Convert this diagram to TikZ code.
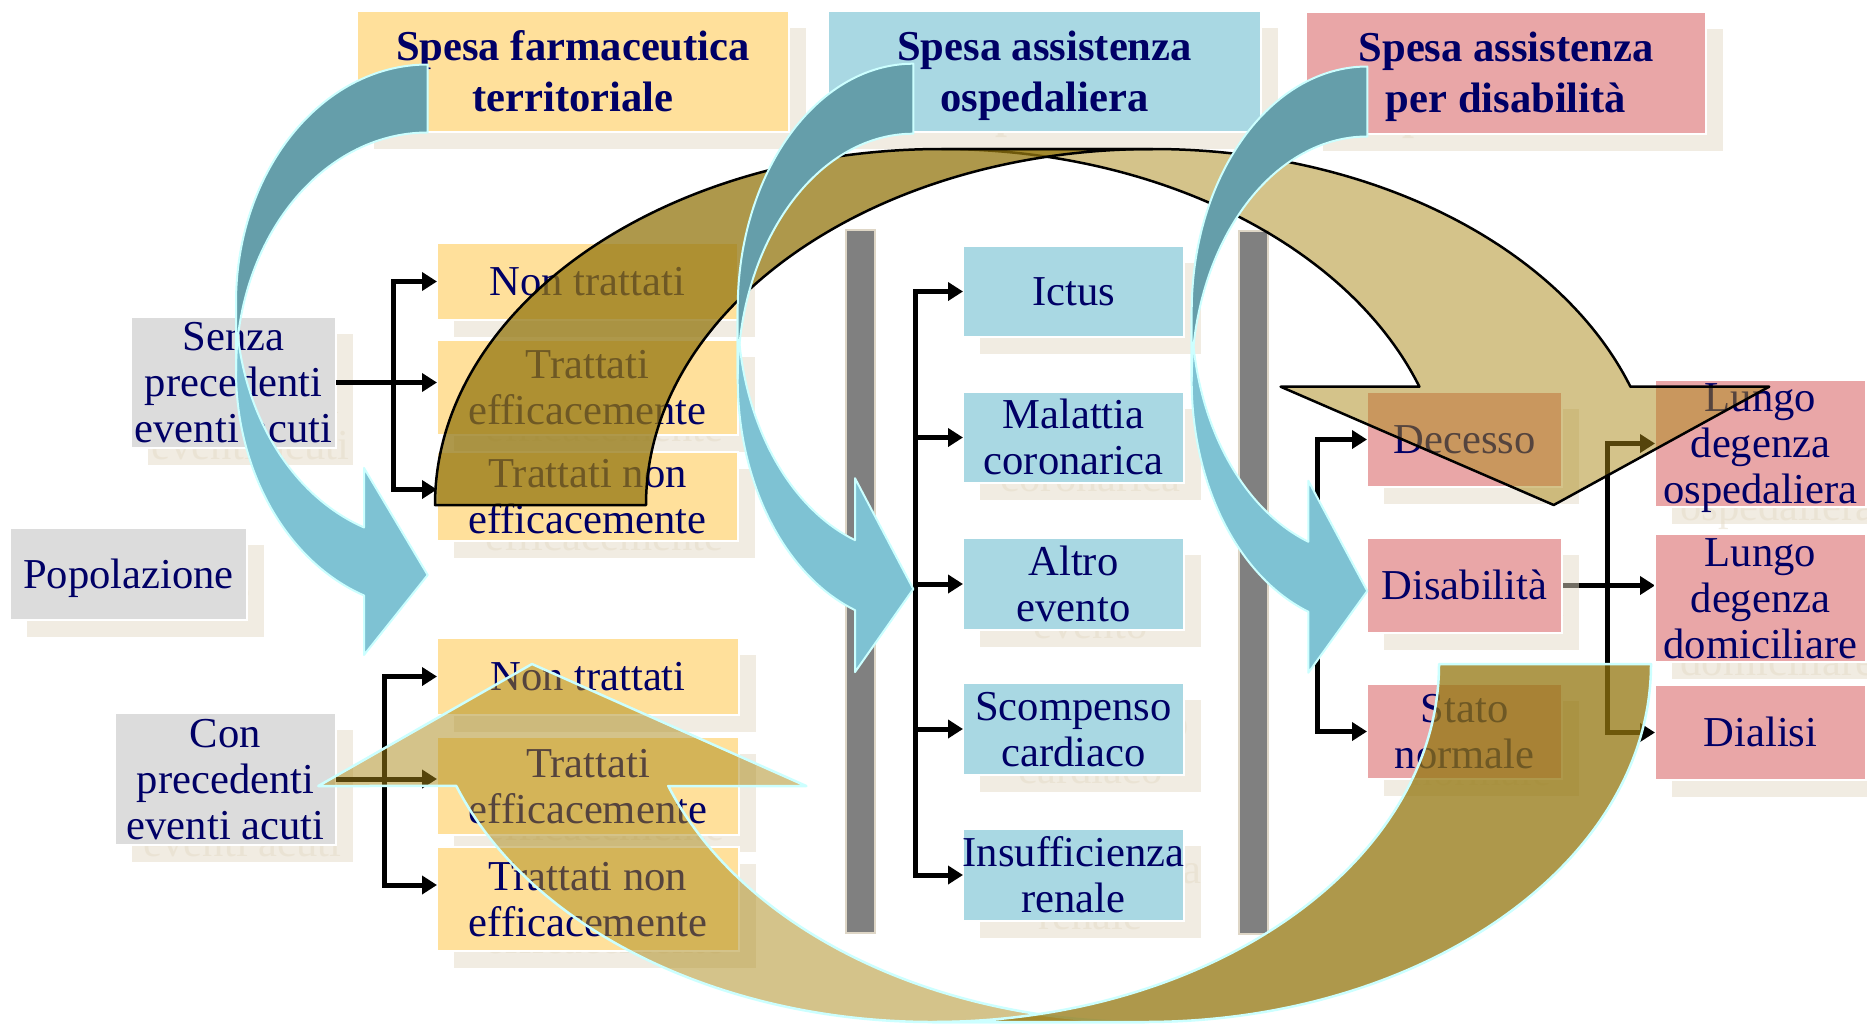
\documentclass[tikz,border=0pt]{standalone}
\usepackage{fontspec}
\setmainfont{Liberation Serif}[Ligatures=CommonOff]
\usetikzlibrary{arrows.meta}

\definecolor{navy}{RGB}{0,0,102}
\definecolor{cyel}{RGB}{255,224,155}
\definecolor{cblu}{RGB}{169,216,227}
\definecolor{cpnk}{RGB}{233,166,167}
\definecolor{cgry}{RGB}{220,220,220}
\definecolor{cshd}{RGB}{229,219,199}
\definecolor{cbar}{RGB}{128,128,128}
\definecolor{cbarln}{RGB}{222,214,198}
\definecolor{blufront}{RGB}{126,194,211}
\definecolor{bluback}{RGB}{101,158,170}
\definecolor{paleedge}{RGB}{204,255,255}
\definecolor{tanfront}{RGB}{171,137,23}
\definecolor{tanback}{RGB}{147,118,15}

\pgfdeclarelayer{under}
\pgfdeclarelayer{shade}
\pgfsetlayers{under,shade,main}

\tikzset{
  box/.style={draw=white, line width=2pt, inner sep=0pt, outer sep=0pt},
  shbox/.style={fill=cshd, fill opacity=0.5, inner sep=0pt, outer sep=0pt},
  bodyfont/.style={font=\fontsize{42.6}{46}\selectfont},
  titlefont/.style={font=\fontsize{42.6}{51}\selectfont\bfseries},
  txt/.style={text=navy, inner sep=0pt, anchor=base},
  shtxt/.style={text=cshd, text opacity=0.5, inner sep=0pt, anchor=base},
  conn/.style={line width=5pt, -{Triangle[length=15pt,width=18pt]}},
  bar/.style={fill=cbar, draw=cbarln, line width=2pt},
  bluefront/.style={fill=blufront, draw=paleedge, line width=2pt, line join=round},
  blueback/.style={fill=bluback, draw=paleedge, line width=2pt, line join=round},
  tanf/.style={fill=tanfront, fill opacity=0.5, line width=2.5pt, line join=round},
  tanb/.style={fill=tanback, fill opacity=0.75, line width=2.5pt, line join=round},
}

% multi-line centred text, baseline on the first line
\newcommand\stacktext[1]{\begin{tabular}[t]{@{}c@{}}#1\end{tabular}}

% body boxes and title boxes: name, x1, y1, x2, y2, fill, lines, text
\newcommand\bbox[8]{\def\curskip{46}\tikzset{curfont/.style={bodyfont}}\bxdo{#1}{#2}{#3}{#4}{#5}{#6}{#7}{#8}}
\newcommand\tbox[8]{\def\curskip{51}\tikzset{curfont/.style={titlefont}}\bxdo{#1}{#2}{#3}{#4}{#5}{#6}{#7}{#8}}

\newcommand\bxgeom[5]{%
  \pgfmathsetmacro\bxcx{(#1+#3)/2}%
  \pgfmathsetmacro\bxcy{(#2+#4)/2}%
  \pgfmathsetmacro\bxw{#3-#1}%
  \pgfmathsetmacro\bxh{#4-#2}%
  \pgfmathsetmacro\bxbase{\bxcy+14.3-(#5-1)*\curskip/2}%
}
\newcommand\bxshadow[8]{%
  \bxgeom{#2}{#3}{#4}{#5}{#7}%
  \node[shbox, minimum width=\bxw pt, minimum height=\bxh pt] (#1-sh) at (\bxcx+17,\bxcy+17) {};
  \node[shtxt, curfont] (#1-sht) at (\bxcx+17,\bxbase+17) {\stacktext{#8}};
}
\newcommand\bxmain[8]{%
  \bxgeom{#2}{#3}{#4}{#5}{#7}%
  \node[box, fill=#6, minimum width=\bxw pt, minimum height=\bxh pt] (#1) at (\bxcx,\bxcy) {};
  \node[txt, curfont] (#1-t) at (\bxcx,\bxbase) {\stacktext{#8}};
}

\newcommand\allboxes{%
  \tbox{t1}{357}{11}{789}{132}{cyel}{2}{Spesa farmaceutica\\territoriale}
  \tbox{t2}{828}{11}{1261}{132}{cblu}{2}{Spesa assistenza\\ospedaliera}
  \tbox{t3}{1306}{12}{1706}{134}{cpnk}{2}{Spesa assistenza\\per disabilità}
  \bbox{pop}{10}{528}{247}{620}{cgry}{1}{Popolazione}
  \bbox{senza}{131}{317}{336}{448}{cgry}{3}{Senza\\precedenti\\eventi acuti}
  \bbox{con}{115}{713}{336}{845}{cgry}{3}{Con\\precedenti\\eventi acuti}
  \bbox{nt1}{437}{243}{738}{320}{cyel}{1}{Non trattati}
  \bbox{te1}{437}{340}{738}{435}{cyel}{2}{Trattati\\efficacemente}
  \bbox{tn1}{437}{452}{738}{541}{cyel}{2}{Trattati non\\efficacemente}
  \bbox{nt2}{437}{638}{739}{715}{cyel}{1}{Non trattati}
  \bbox{te2}{437}{737}{739}{835}{cyel}{2}{Trattati\\efficacemente}
  \bbox{tn2}{437}{847}{739}{951}{cyel}{2}{Trattati non\\efficacemente}
  \bbox{ict}{963}{246}{1184}{337}{cblu}{1}{Ictus}
  \bbox{mal}{963}{392}{1184}{483}{cblu}{2}{Malattia\\coronarica}
  \bbox{alt}{963}{538}{1184}{630}{cblu}{2}{Altro\\evento}
  \bbox{sco}{963}{683}{1184}{775}{cblu}{2}{Scompenso\\cardiaco}
  \bbox{ins}{963}{829}{1184}{921}{cblu}{2}{Insufficienza\\renale}
  \bbox{dec}{1367}{392}{1562}{487}{cpnk}{1}{Decesso}
  \bbox{dis}{1367}{538}{1562}{633}{cpnk}{1}{Disabilità}
  \bbox{sta}{1367}{684}{1562}{779}{cpnk}{2}{Stato\\normale}
  \bbox{lo}{1655}{380}{1866}{507}{cpnk}{3}{Lungo\\degenza\\ospedaliera}
  \bbox{ld}{1655}{534}{1866}{662}{cpnk}{3}{Lungo\\degenza\\domiciliare}
  \bbox{dia}{1655}{685}{1866}{780}{cpnk}{1}{Dialisi}
}

% curved right arrow (twisted ribbon): left, top, width, height, band, head width, head length
\newcommand\bluearrow[7]{%
  \pgfmathsetmacro\kr{#1+#3}%
  \pgfmathsetmacro\khr{#4/2-(#5+#6)/4}%
  \pgfmathsetmacro\kya{#2+\khr}%
  \pgfmathsetmacro\kyb{\kya+#5}%
  \pgfmathsetmacro\kxa{\kr-#7}%
  \pgfmathsetmacro\kang{acos(-#7/#3)}%
  \pgfmathsetmacro\kdy{\khr*sin(\kang)}%
  \pgfmathsetmacro\kyv{\kya+\kdy}%
  \pgfmathsetmacro\kyw{\kyv+#5}%
  \pgfmathsetmacro\kdh{(#6-#5)/2}%
  \pgfmathsetmacro\kyu{\kyv-\kdh}%
  \pgfmathsetmacro\kyx{\kyw+\kdh}%
  \pgfmathsetmacro\kyt{#2+#4-#6/2}%
  \filldraw[bluefront] (#1,\kya) arc[start angle=180, end angle=\kang, x radius=#3, y radius=\khr]
     -- (\kxa,\kyu) -- (\kr,\kyt) -- (\kxa,\kyx) -- (\kxa,\kyw)
     arc[start angle=\kang, end angle=180, x radius=#3, y radius=\khr] -- cycle;
  \filldraw[blueback] (\kr,#2) arc[start angle=270, end angle=180, x radius=#3, y radius=\khr]
     -- (#1,\kyb) arc[start angle=180, end angle=270, x radius=#3, y radius=\khr] -- cycle;
}

\begin{document}
\begin{tikzpicture}[x=1pt, y=-1pt]
\useasboundingbox (0,0) rectangle (1867,1028);
\begin{pgfonlayer}{under}
  \fill[white] (0,0) rectangle (1867,1028);
\end{pgfonlayer}

% drop shadows
\begin{pgfonlayer}{shade}
  \let\bxdo\bxshadow
  \allboxes
\end{pgfonlayer}

% separating bars
\filldraw[bar] (846,230) rectangle (875,933);
\filldraw[bar] (1239,231) rectangle (1268,934);

% boxes
\let\bxdo\bxmain
\allboxes

% branching connectors
\coordinate (fa) at (393,382.5);
\draw[conn] (senza.east) -- (senza.east -| te1.west);
\draw[conn] (fa) |- (nt1.west);
\draw[conn] (fa) |- ([yshift=7pt]tn1.west);

\coordinate (fb) at (384,779);
\draw[conn] (con.east) -- (con.east -| te2.west);
\draw[conn] (fb) |- (nt2.west);
\draw[conn] (fb) |- ([yshift=14pt]tn2.west);

\coordinate (fc) at (915,584);
\draw[conn] (fc) |- (ict.west);
\draw[conn] (fc) |- (mal.west);
\draw[conn] (fc) -- (alt.west);
\draw[conn] (fc) |- (sco.west);
\draw[conn] (fc) |- (ins.west);

\coordinate (fd) at (1317,586);
\draw[conn] (fd) |- (dec.west);
\draw[conn] (fd) |- (sta.west);

\coordinate (fe) at (1607,585.5);
\draw[conn] (fe) |- (lo.west);
\draw[conn] (fe) |- (dia.west);
\begin{pgfonlayer}{under}
  \draw[conn] (dis.east) -- (dis.east -| ld.west);
\end{pgfonlayer}

% large curved arrow over the top (pointing down)
\filldraw[tanf, draw=black] (941.6,149)
   arc[start angle=270, end angle=340.59, x radius=506.6, y radius=356]
   -- (1280.6,386.7) -- (1553.7,505) -- (1769.2,386.7) -- (1630.4,386.7)
   arc[start angle=340.59, end angle=270, x radius=506.6, y radius=356] -- cycle;
\filldraw[tanb, draw=black] (435,505)
   arc[start angle=180, end angle=270, x radius=506.6, y radius=356]
   -- (1152.6,149)
   arc[start angle=270, end angle=180, x radius=506.6, y radius=356] -- cycle;

% large curved arrow along the bottom (pointing up)
\filldraw[tanf, draw=paleedge] (932.5,1022)
   arc[start angle=90, end angle=160.08, x radius=506.5, y radius=358]
   -- (318.3,786) -- (532,664) -- (806.3,786) -- (668.3,786)
   arc[start angle=160.08, end angle=90, x radius=506.5, y radius=358] -- cycle;
\filldraw[tanb, draw=paleedge] (1651,664)
   arc[start angle=0, end angle=90, x radius=506.5, y radius=358]
   -- (932.5,1022)
   arc[start angle=90, end angle=0, x radius=506.5, y radius=358] -- cycle;

% blue ribbons from each cost heading
\bluearrow{236}{64.5}{191.7}{604}{68}{187}{63.7}
\bluearrow{737.7}{63.7}{175.6}{622.3}{70}{193.9}{58.3}
\bluearrow{1191.7}{66.5}{175.6}{620.5}{70}{192}{59}
\end{tikzpicture}
\end{document}
